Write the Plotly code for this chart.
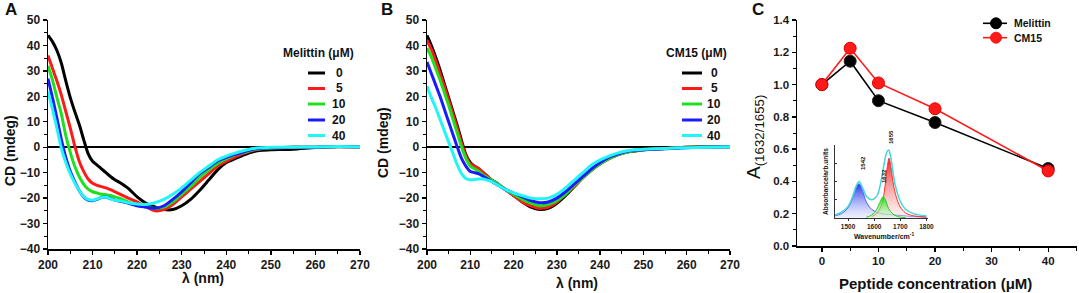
import plotly.graph_objects as go

W, H = 1079, 293
FONT = "Arial, Liberation Sans, sans-serif"

# ---------------- data ----------------
wavelength = [200, 201, 202, 203, 204, 205, 206, 207, 208, 209, 210, 211, 212, 213, 214, 215, 216,
              218, 220, 222, 224, 226, 228, 230, 232, 234, 236, 238, 240, 242, 244, 246, 248, 250,
              255, 260, 265, 270]
conc_labels = ["0", "5", "10", "20", "40"]

mel_0 = [44, 41.5, 38, 33, 26, 19.5, 14, 9, 3, -2.5, -5.5, -7, -8.5, -10, -11.5, -12.8, -13.8,
         -16.2, -19.5, -22, -23.5, -24.5, -24.5, -23, -20.5, -17, -13, -9, -6, -4.5, -3, -1.8, -1.2, -1.0,
         -0.8, -0.1, 0.2, 0.2]
mel_5 = [36, 31, 26, 20.5, 14, 7.5, 0.5, -5.5, -9.5, -12.5, -14.2, -15, -15.5, -16, -16.7, -17.5, -18.3,
         -20, -21.5, -23.5, -25, -24.5, -22.5, -19.5, -16.5, -13.5, -10.5, -7.5, -5.5, -3.8, -2.3, -1.2, -0.6, -0.3,
         0, 0, 0.3, 0.2]
mel_10 = [32, 26.5, 19.5, 13, 4.5, -2, -7.5, -11.5, -14.5, -16.5, -17.5, -18, -18.5, -18.7, -19, -19.5, -20,
          -21.5, -22.5, -23.5, -24, -23.5, -21.5, -18.5, -15.5, -12, -9, -6.5, -4.5, -3, -2, -1, -0.5, -0.3,
          0, 0, 0.3, 0.2]
mel_20 = [27, 19.5, 11.5, 3, -4, -9.5, -13.5, -17, -19.5, -20.8, -21, -20.5, -19.8, -19.6, -20.2, -20.8, -21.2,
          -22, -23, -23.5, -24, -23, -20.5, -17.5, -14, -10.5, -8, -5.5, -4, -2.8, -1.8, -0.8, -0.4, -0.2,
          0, 0, 0.3, 0.2]
mel_40 = [22, 15, 7.5, -0.5, -6, -10.5, -14, -17, -19.3, -20.5, -20.8, -20.3, -19.8, -19.6, -20.3, -20.8, -21,
          -21.8, -22.3, -22.5, -21.8, -20.5, -18.5, -16, -13, -10, -7.5, -5, -3.5, -2.3, -1.3, -0.5, -0.2, 0,
          0, 0.1, 0.3, 0.2]

cm_0 = [44, 40, 35.5, 30.5, 25, 19.5, 14, 8.5, 2.5, -3, -6, -7.5, -8.5, -10, -11.5, -13, -14,
        -16.5, -19, -21.5, -23.5, -24.5, -24, -22, -19, -15.5, -12, -9, -6.5, -4.5, -3, -2, -1.5, -1,
        -0.5, 0, 0.2, 0.2]
cm_5 = [42, 38.5, 34, 29, 24, 18.5, 13, 7.5, 1.5, -3.5, -6.5, -7.5, -8.5, -10, -11.5, -13, -14,
        -16.5, -19, -21.5, -23, -24, -23.5, -21.5, -18.5, -15.5, -12, -9, -6.5, -4.5, -3, -2, -1.3, -1,
        -0.5, 0, 0.3, 0.3]
cm_10 = [39, 35.5, 31, 26.5, 21.5, 16.5, 11, 5.5, 0, -4.5, -7.5, -8.5, -9.5, -11, -12, -13, -14,
         -16.5, -18.5, -20.5, -22, -23, -22.5, -21, -18.5, -15, -12, -9, -6.5, -4.5, -3, -2, -1.3, -1,
         -0.5, 0, 0.2, 0.2]
cm_20 = [33.5, 29, 24.5, 20, 15, 10, 5, 0, -4.5, -7.5, -9.5, -10, -10.5, -11.5, -12.5, -13.5, -14.5,
         -16.5, -18, -19.5, -21, -21.8, -21.5, -20, -17.5, -14.5, -11.5, -8.5, -6, -4, -2.7, -1.7, -1.2, -1,
         -0.6, -0.2, 0.1, 0.2]
cm_40 = [24, 19.5, 15.5, 11, 6.5, 2, -2.5, -7, -10.5, -12.3, -12.8, -12.7, -12.5, -12.5, -13, -13.5, -14.5,
         -16.5, -18, -19, -20, -20.3, -20, -18.5, -16, -13, -10, -7, -5, -3.5, -2.3, -1.5, -1, -0.8,
         -0.5, -0.2, 0, 0.2]

peptide_conc = [0, 5, 10, 20, 40]
ratio_melittin = [1.0, 1.145, 0.90, 0.765, 0.48]
ratio_cm15 = [1.0, 1.225, 1.01, 0.85, 0.465]

# inset FTIR spectrum (arbitrary units)
wn_blue = [1450, 1475, 1500, 1520, 1530, 1542, 1555, 1570, 1590, 1610, 1630, 1655, 1680, 1700, 1750, 1800]
ab_blue = [0.03, 0.06, 0.14, 0.30, 0.41, 0.47, 0.38, 0.22, 0.12, 0.08, 0.06, 0.05, 0.04, 0.035, 0.02, 0.015]
wn_green = [1570, 1590, 1610, 1620, 1634, 1644, 1655, 1670, 1690, 1720]
ab_green = [0.01, 0.04, 0.12, 0.20, 0.29, 0.24, 0.13, 0.06, 0.02, 0.005]
wn_red = [1590, 1610, 1630, 1642, 1650, 1657, 1664, 1672, 1682, 1700, 1720, 1750, 1800]
ab_red = [0.02, 0.06, 0.20, 0.45, 0.70, 0.82, 0.70, 0.50, 0.32, 0.15, 0.07, 0.03, 0.01]
wn_env = [1450, 1475, 1500, 1520, 1530, 1542, 1555, 1570, 1590, 1610, 1620, 1630, 1640, 1648, 1655,
          1662, 1670, 1680, 1700, 1720, 1750, 1800]
ab_env = [0.04, 0.08, 0.16, 0.32, 0.43, 0.50, 0.42, 0.30, 0.25, 0.30, 0.40, 0.58, 0.78, 0.90, 0.93,
          0.86, 0.68, 0.46, 0.23, 0.12, 0.06, 0.03]
peak_labels = ["1542", "1632", "1655"]

# ---------------- style ----------------
line_colors = ["#000000", "#ff1a1a", "#1fe01f", "#1a1aff", "#22f5f5"]


def X(px):
    return px / W


def Y(py):
    return 1 - py / H


fig = go.Figure()

for series, ax in (([mel_0, mel_5, mel_10, mel_20, mel_40], ("x", "y")),
                   ([cm_0, cm_5, cm_10, cm_20, cm_40], ("x2", "y2"))):
    for vals, col, lab in zip(series, line_colors, conc_labels):
        fig.add_trace(go.Scatter(x=wavelength, y=vals, mode="lines", name=lab,
                                 line=dict(color=col, width=3, shape="spline", smoothing=0.6),
                                 xaxis=ax[0], yaxis=ax[1], showlegend=False))

fig.add_trace(go.Scatter(x=peptide_conc, y=ratio_melittin, mode="lines+markers", name="Melittin",
                         line=dict(color="black", width=1.6),
                         marker=dict(size=12, color="black", line=dict(color="#222", width=1)),
                         xaxis="x3", yaxis="y3", showlegend=False))
fig.add_trace(go.Scatter(x=peptide_conc, y=ratio_cm15, mode="lines+markers", name="CM15",
                         line=dict(color="#ff1a1a", width=1.6),
                         marker=dict(size=12, color="#ff1a1a", line=dict(color="#e00000", width=1)),
                         xaxis="x3", yaxis="y3", showlegend=False))

# inset traces
fig.add_trace(go.Scatter(x=wn_blue, y=ab_blue, mode="lines", fill="tozeroy",
                         line=dict(color="#5060ff", width=1, shape="spline"),
                         fillgradient=dict(type="vertical",
                                           colorscale=[[0, "rgba(215,220,255,0.4)"], [1, "rgba(20,40,230,0.95)"]]),
                         xaxis="x4", yaxis="y4", showlegend=False))
fig.add_trace(go.Scatter(x=wn_red, y=ab_red, mode="lines", fill="tozeroy",
                         line=dict(color="#ff3030", width=1, shape="spline"),
                         fillgradient=dict(type="vertical",
                                           colorscale=[[0, "rgba(255,225,225,0.4)"], [1, "rgba(235,20,20,0.95)"]]),
                         xaxis="x4", yaxis="y4", showlegend=False))
fig.add_trace(go.Scatter(x=wn_green, y=ab_green, mode="lines", fill="tozeroy",
                         line=dict(color="#20d020", width=1, shape="spline"),
                         fillgradient=dict(type="vertical",
                                           colorscale=[[0, "rgba(215,255,215,0.4)"], [1, "rgba(20,220,20,0.95)"]]),
                         xaxis="x4", yaxis="y4", showlegend=False))
fig.add_trace(go.Scatter(x=wn_env, y=ab_env, mode="lines",
                         line=dict(color="#40d8d8", width=1.5, shape="spline"),
                         xaxis="x4", yaxis="y4", showlegend=False))

tickfont = dict(family=FONT, size=12, color="#1a1a1a", weight="bold")


def axis(domain, rng, dtick, minor_dtick, anchor, **kw):
    d = dict(domain=domain, range=rng, dtick=dtick, showline=True, linecolor="black", linewidth=1.5,
             ticks="outside", ticklen=4, tickwidth=1.3, tickcolor="black",
             minor=dict(ticks="outside", ticklen=3, tickwidth=1, tickcolor="black", dtick=minor_dtick),
             showgrid=False, zeroline=False, tickfont=tickfont, anchor=anchor, fixedrange=True,
             automargin=False)
    d.update(kw)
    return d


ydomAB = [Y(249), Y(20)]
fig.update_layout(
    width=W, height=H, margin=dict(l=0, r=0, t=0, b=0, pad=0, autoexpand=False),
    paper_bgcolor="white", plot_bgcolor="white", showlegend=False,
    xaxis=axis([X(48), X(360)], [200, 270], 10, 5, "y", tick0=200),
    yaxis=axis(ydomAB, [-40, 50], 10, 5, "x", zeroline=True, zerolinecolor="black", zerolinewidth=1.5),
    xaxis2=axis([X(427), X(730)], [200, 270], 10, 5, "y2", tick0=200),
    yaxis2=axis(ydomAB, [-40, 50], 10, 5, "x2", zeroline=True, zerolinecolor="black", zerolinewidth=1.5),
    xaxis3=axis([X(797), X(1077)], [-4.4, 45.1], 10, 5, "y3", tick0=0,
                tickfont=dict(family=FONT, size=11.5, color="#1a1a1a", weight="bold")),
    yaxis3=axis([Y(246), Y(20)], [0, 1.4], 0.2, 0.1, "x3", tickformat=".1f",
                tickfont=dict(family=FONT, size=11.5, color="#1a1a1a", weight="bold")),
    xaxis4=dict(domain=[X(835), X(928)], range=[1450, 1806], dtick=100, tick0=1500, showline=True,
                linecolor="#333", linewidth=1, ticks="outside", ticklen=2, tickcolor="#333",
                tickfont=dict(family=FONT, size=6.5, color="#222", weight="bold"), showgrid=False,
                zeroline=False, anchor="y4", fixedrange=True, automargin=False),
    yaxis4=dict(domain=[Y(218), Y(145)], range=[0, 1.0], showline=True, linecolor="#333", linewidth=1,
                ticks="inside", ticklen=2, tickcolor="#333", dtick=0.25, showticklabels=False,
                showgrid=False, zeroline=False, anchor="x4", fixedrange=True, automargin=False),
)

ann = []


def text(t, px, py, size, bold=True, angle=0, xanchor="center", color="#111"):
    ann.append(dict(text=t, x=X(px), y=Y(py), xref="paper", yref="paper", showarrow=False,
                    xanchor=xanchor, yanchor="middle", textangle=angle,
                    font=dict(family=FONT, size=size, color=color, weight="bold" if bold else "normal")))


# panel letters
text("A", 11, 9, 17)
text("B", 387, 9, 17)
text("C", 758, 9, 17)
# axis titles
text("CD (mdeg)", 10, 151, 14, angle=-90)
text("CD (mdeg)", 383, 143, 14, angle=-90)
text("λ (nm)", 203, 278, 14)
text("λ (nm)", 577, 283, 14)
text("Peptide concentration (μM)", 935, 283, 15)
text("A<sub>(1632/1655)</sub>", 755, 137, 19, bold=False, angle=-90)
# inset titles
text("Absorbance/arb.units", 825, 182, 6.5, angle=-90)
text("Wavenumber/cm<sup>-1</sup>", 884, 236, 7)

shapes = []
# legends for A and B
legend_rows = [73, 88.5, 104, 120, 135.5]
for title, tx, lx0, lx1, labx in (("Melittin (μM)", 318, 308, 325, 339),
                                  ("CM15 (μM)", 696, 682, 702, 714)):
    text(title, tx, 53, 12)
    for lab, col, ry in zip(conc_labels, line_colors, legend_rows):
        shapes.append(dict(type="line", xref="paper", yref="paper", x0=X(lx0), x1=X(lx1),
                           y0=Y(ry), y1=Y(ry), line=dict(color=col, width=3)))
        text(lab, labx, ry, 12)

# legend for C
for lab, col, ry in (("Melittin", "black", 23.3), ("CM15", "#ff1a1a", 37.7)):
    shapes.append(dict(type="line", xref="paper", yref="paper", x0=X(983), x1=X(1007),
                       y0=Y(ry), y1=Y(ry), line=dict(color=col, width=1.6)))
    shapes.append(dict(type="circle", xref="paper", yref="paper", x0=X(990.5), x1=X(1001.5),
                       y0=Y(ry + 5.5), y1=Y(ry - 5.5), fillcolor=col, line=dict(color=col, width=1)))
    text(lab, 1012, ry, 10.5, xanchor="left")

# inset peak labels (rotated, placed above each peak)
for lab, px, py in zip(peak_labels, (863, 884, 891), (163, 176, 137)):
    text(lab, px, py, 6, angle=-90)

fig.update_layout(annotations=ann, shapes=shapes)
fig.write_html("out.html", config={"displayModeBar": False, "staticPlot": True},
               post_script="document.body.style.margin='0px';document.body.style.overflow='hidden';")
